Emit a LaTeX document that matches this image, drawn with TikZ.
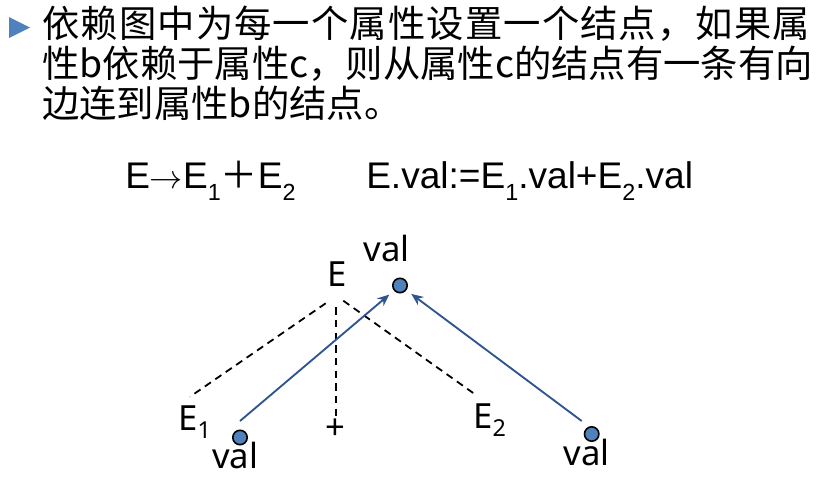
\documentclass[tikz,border=0pt]{standalone}
\usepackage{fontspec}
\setmainfont{Liberation Sans}
\newfontfamily\cjk{Noto Sans CJK SC}
\newfontfamily\treefont{Noto Sans}
\usetikzlibrary{arrows.meta}
\definecolor{bul}{HTML}{4F81BD}
\definecolor{arr}{HTML}{2F5590}
\definecolor{fillc}{HTML}{4F81BD}
\newcommand{\eqsub}[1]{\raisebox{-9pt}{\fontsize{17.5pt}{18pt}\selectfont #1}}
\newcommand{\trsub}[1]{\raisebox{-6.2pt}{\fontsize{17.5pt}{18pt}\selectfont #1}}
\tikzset{
  title/.style={anchor=base west, inner sep=0pt, font=\cjk\fontsize{28pt}{30pt}\selectfont},
  eqtext/.style={anchor=base west, inner sep=0pt, font=\fontsize{27.8pt}{30pt}\selectfont},
  lab/.style={inner sep=0pt, font=\treefont\fontsize{26pt}{28pt}\selectfont},
  dot/.style={circle, draw=black, line width=1.2pt, fill=fillc, minimum size=10.8pt, inner sep=0pt},
  dep/.style={draw=arr, line width=1.4pt, -{Stealth[length=9pt,width=7.5pt,inset=3pt]}, shorten >=4.5pt},
  tree/.style={draw=black, line width=1.35pt, dash pattern=on 5.5pt off 4pt}
}
\begin{document}
\begin{tikzpicture}[x=0.75pt,y=-0.75pt]
\useasboundingbox (0,0) rectangle (821,480);
% bullet
\fill[bul] (9,17) -- (30,27.5) -- (9,38) -- cycle;
% title (justified lines)
\node[title] (t1) at (42,37) {\makebox[576.75pt][l]{依\hfil 赖\hfil 图\hfil 中\hfil 为\hfil 每\hfil 一\hfil 个\hfil 属\hfil 性\hfil 设\hfil 置\hfil 一\hfil 个\hfil 结\hfil 点\hfil ，\hfil 如\hfil 果\hfil 属}};
\node[title] (t2) at (42,77) {\makebox[576.75pt][l]{性\hfil b\hfil 依\hfil 赖\hfil 于\hfil 属\hfil 性\hfil c\hfil ，\hfil 则\hfil 从\hfil 属\hfil 性\hfil c\hfil 的\hfil 结\hfil 点\hfil 有\hfil 一\hfil 条\hfil 有\hfil 向}};
\node[title] (t3) at (42,117) {边连到属性b的结点。};
% equations
\node[eqtext] (eq1) at (125,188) {E$\rightarrow$E\eqsub{1}{\cjk ＋}E\eqsub{2}};
\node[eqtext] (eq2) at (366,188) {E.val:=E\eqsub{1}.val+E\eqsub{2}.val};
% tree labels
\node[lab, anchor=base] (tE) at (336.7,286.7) {E};
\node[lab, anchor=base] (tval0) at (386.5,261.7) {val};
\node[lab, anchor=base west] (tE1) at (178,430) {E\trsub{1}};
\node[lab, anchor=base west] (tE2) at (473,428.3) {E\trsub{2}};
\node[lab] (tplus) at (335.7,429.3) {+};
\node[lab, anchor=base] (tval1) at (235,468.3) {val};
\node[lab, anchor=base] (tval2) at (586.5,465) {val};
% dots
\node[dot] (c0) at (400,285.5) {};
\node[dot] (c1) at (240,437.5) {};
\node[dot] (c2) at (591.7,434) {};
% tree dashed lines
\coordinate (eL) at (325.7,303.3);
\coordinate (eM) at (335.7,307.3);
\coordinate (eR) at (343.3,300.7);
\coordinate (e1) at (190,396.7);
\coordinate (pl) at (335.7,416.7);
\coordinate (e2) at (476,395);
\draw[tree] (eL) -- (e1);
\draw[tree] (eM) -- (pl);
\draw[tree] (eR) -- (e2);
% dependency arrows
\coordinate (s1) at (240,421);
\coordinate (s2) at (581.7,421);
\draw[dep] (s1) -- (c0);
\draw[dep] (s2) -- (c0);
\end{tikzpicture}
\end{document}
